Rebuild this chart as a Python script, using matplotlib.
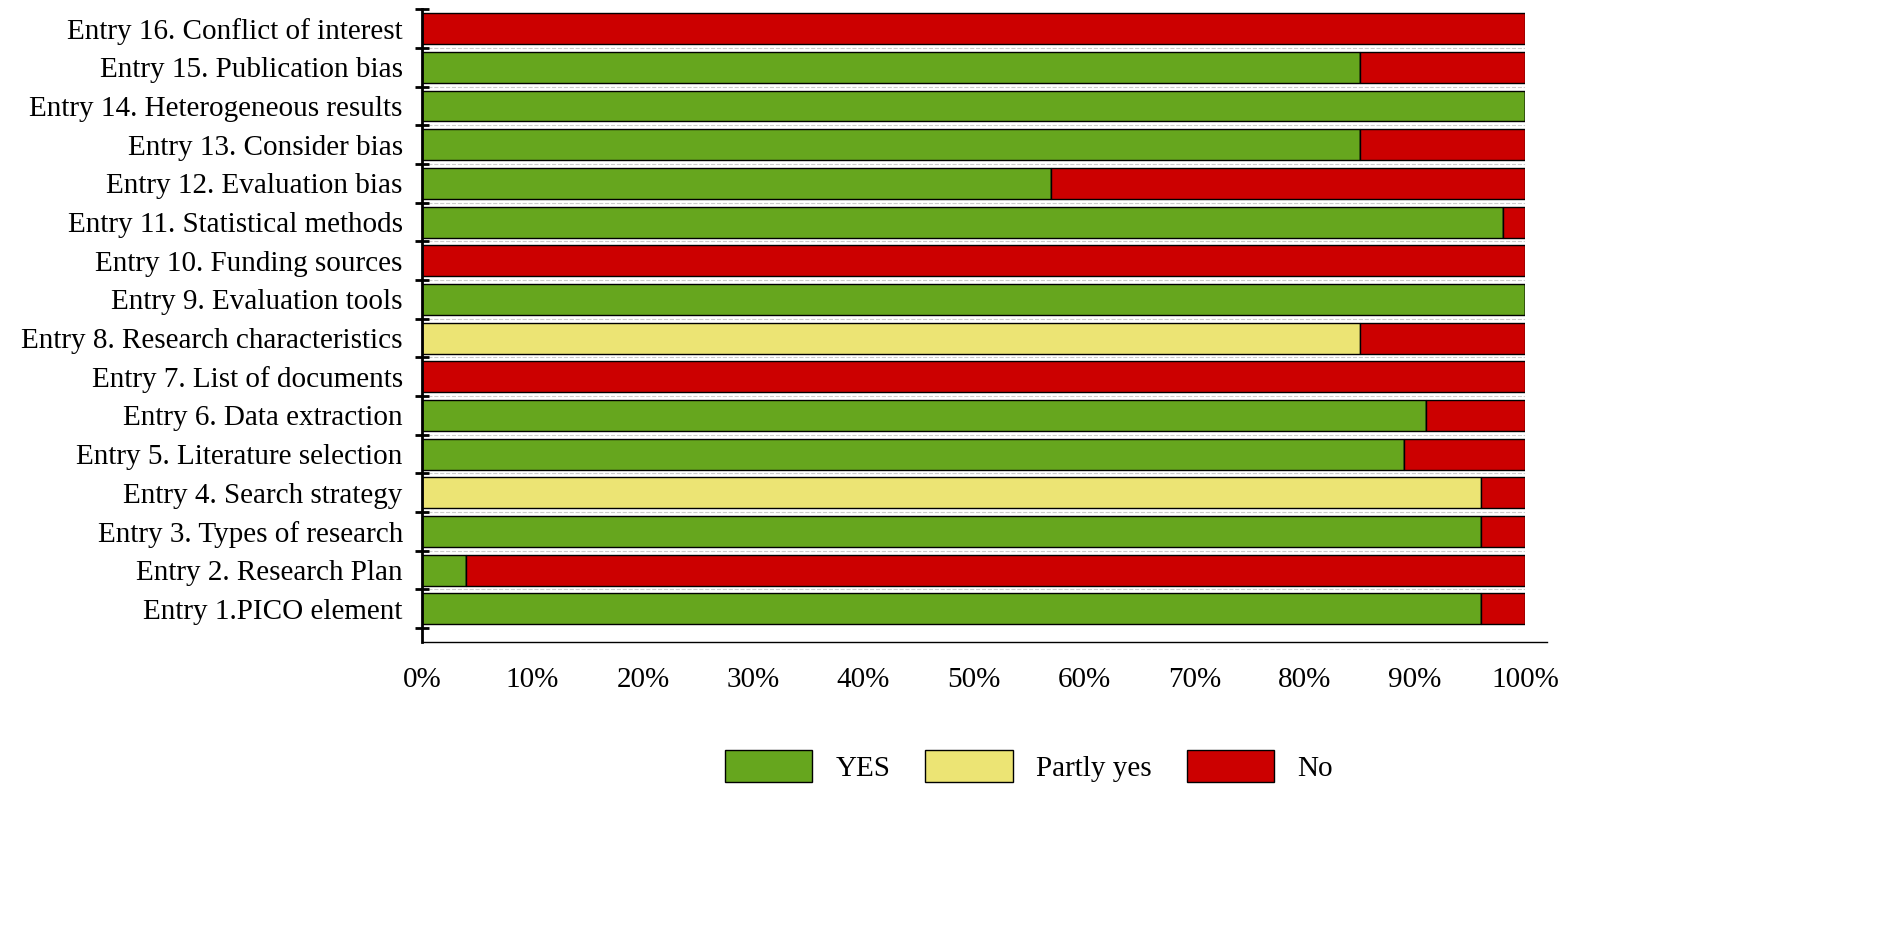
import numpy as np
import matplotlib.pyplot as plt
from matplotlib.ticker import FuncFormatter

plt.rcParams['font.family'] = 'Liberation Serif'

# Entries listed bottom to top
entries = [
    'Entry 1.PICO element', 'Entry 2. Research Plan', 'Entry 3. Types of research',
    'Entry 4. Search strategy', 'Entry 5. Literature selection', 'Entry 6. Data extraction',
    'Entry 7. List of documents', 'Entry 8. Research characteristics', 'Entry 9. Evaluation tools',
    'Entry 10. Funding sources', 'Entry 11. Statistical methods', 'Entry 12. Evaluation bias',
    'Entry 13. Consider bias', 'Entry 14. Heterogeneous results', 'Entry 15. Publication bias',
    'Entry 16. Conflict of interest',
]
yes_pct = [96, 4, 96, 0, 89, 91, 0, 0, 100, 0, 98, 57, 85, 100, 85, 0]
partly_pct = [0, 0, 0, 96, 0, 0, 0, 85, 0, 0, 0, 0, 0, 0, 0, 0]
no_pct = [4, 96, 4, 4, 11, 9, 100, 15, 0, 100, 2, 43, 15, 0, 15, 100]

yes = np.array(yes_pct)
partly = np.array(partly_pct)
no = np.array(no_pct)
y = np.arange(len(entries))

fig, ax = plt.subplots(figsize=(19.02, 9.30), dpi=100)
fig.subplots_adjust(left=0.222, right=0.802, top=0.99, bottom=0.31)

h = 0.8
ax.barh(y, yes, h, color='#66a61e', edgecolor='black', linewidth=1, label='YES')
ax.barh(y, partly, h, left=yes, color='#ece474', edgecolor='black', linewidth=1, label='Partly yes')
ax.barh(y, no, h, left=yes + partly, color='#cc0000', edgecolor='black', linewidth=1, label='No')

ax.set_xlim(0, 100)
ax.set_ylim(-0.85, len(entries) - 0.5)
ax.set_yticks(y)
ax.set_yticklabels(entries, fontsize=21)
ax.set_yticks(np.arange(-0.5, len(entries), 1), minor=True)
ax.tick_params(axis='y', which='major', length=0, pad=14)
ax.tick_params(axis='y', which='minor', length=10, width=2, direction='inout')
ax.set_xticks(np.arange(0, 101, 10))
ax.xaxis.set_major_formatter(FuncFormatter(lambda v, p: f'{int(v)}%'))
ax.tick_params(axis='x', length=0, labelsize=21, pad=18)
for b in np.arange(0.5, len(entries) - 1, 1):
    ax.axhline(b, color='#cccccc', linestyle='--', linewidth=0.8, zorder=0)

for s in ['top', 'right']:
    ax.spines[s].set_visible(False)
ax.spines['left'].set_linewidth(2)
ax.spines['bottom'].set_linewidth(1)
ax.spines['bottom'].set_bounds(0, 102)
ax.spines['bottom'].set_clip_on(False)

ax.legend(loc='upper center', bbox_to_anchor=(0.55, -0.13), ncol=3, frameon=False,
          fontsize=21, handlelength=3, handleheight=1.3, columnspacing=1.2)

plt.savefig('out.png', dpi=100)
